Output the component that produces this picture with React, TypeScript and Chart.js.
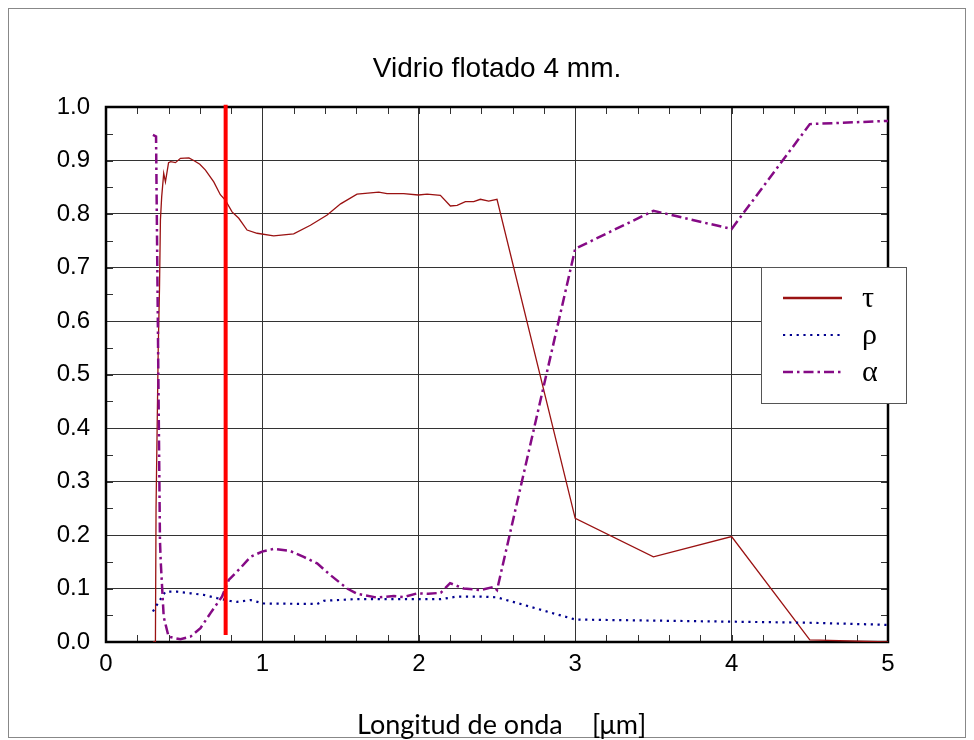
import { useEffect, useRef } from 'react';
import { Chart, registerables } from 'chart.js';

Chart.register(...registerables);

// ---- data (wavelength in µm, fraction) ----
const tauWl = [0.30, 0.316, 0.32, 0.334, 0.342, 0.348, 0.356, 0.369, 0.38, 0.40, 0.414, 0.444, 0.476, 0.53, 0.561, 0.60, 0.636, 0.689, 0.731, 0.763, 0.806, 0.849, 0.902, 0.966, 1.072, 1.2, 1.307, 1.414, 1.50, 1.605, 1.744, 1.797, 1.903, 1.997, 2.053, 2.138, 2.202, 2.245, 2.298, 2.351, 2.394, 2.447, 2.50, 3.0, 3.5, 4.0, 4.5, 5.0];
const tauVal = [0.0, 0.0, 0.25, 0.55, 0.66, 0.789, 0.832, 0.876, 0.86, 0.896, 0.898, 0.896, 0.904, 0.905, 0.9, 0.893, 0.882, 0.86, 0.836, 0.826, 0.804, 0.792, 0.77, 0.764, 0.759, 0.763, 0.779, 0.798, 0.819, 0.837, 0.841, 0.838, 0.838, 0.8355, 0.837, 0.835, 0.815, 0.816, 0.823, 0.823, 0.8275, 0.824, 0.8275, 0.231, 0.159, 0.197, 0.004, 0.0];

const rhoWl = [0.30, 0.337, 0.38, 0.455, 0.54, 0.625, 0.71, 0.795, 0.838, 0.923, 1.008, 1.35, 1.392, 1.584, 1.755, 2.0, 2.14, 2.245, 2.394, 2.50, 3.0, 3.5, 4.0, 4.5, 5.0];
const rhoVal = [0.057, 0.075, 0.094, 0.094, 0.091, 0.088, 0.082, 0.0766, 0.075, 0.0785, 0.072, 0.071, 0.077, 0.08, 0.08, 0.08, 0.08, 0.085, 0.085, 0.0835, 0.042, 0.04, 0.038, 0.036, 0.032];

const alphaWl = [0.30, 0.32, 0.345, 0.35, 0.369, 0.40, 0.476, 0.54, 0.604, 0.668, 0.742, 0.785, 0.859, 0.923, 0.998, 1.072, 1.179, 1.264, 1.35, 1.435, 1.542, 1.605, 1.733, 1.84, 1.903, 1.99, 2.06, 2.14, 2.2, 2.287, 2.394, 2.479, 2.50, 3.0, 3.5, 4.0, 4.5, 5.0];
const alphaVal = [0.948, 0.945, 0.19, 0.15, 0.047, 0.01, 0.005, 0.01, 0.026, 0.054, 0.085, 0.116, 0.138, 0.159, 0.169, 0.174, 0.17, 0.159, 0.147, 0.125, 0.1, 0.09, 0.083, 0.086, 0.084, 0.091, 0.09, 0.092, 0.11, 0.1, 0.097, 0.103, 0.097, 0.735, 0.806, 0.772, 0.968, 0.974];

const visibleLimitWl = [0.765, 0.765];
const visibleLimitVal = [0.013, 1.004];

const xTicks = [0, 1, 2, 3, 4, 5];
const yTicks = [0, 0.1, 0.2, 0.3, 0.4, 0.5, 0.6, 0.7, 0.8, 0.9, 1.0];

const titleText = 'Vidrio flotado 4 mm.';
const xTitleMain = 'Longitud de onda';
const xTitleUnit = '[\u03bcm]';
const legendLabels = ['\u03c4', '\u03c1', '\u03b1'];

const TAU_COLOR = '#9a1212';
const RHO_COLOR = '#00008f';
const ALPHA_COLOR = '#850a85';
const RHO_DASH = [2.2, 4.6];
const ALPHA_DASH = [10, 4, 2.5, 4];

const toPts = (xs: number[], ys: number[]) => xs.map((x, i) => ({ x, y: ys[i] }));

const decorPlugin = {
  id: 'decor',
  beforeDraw(chart: any) {
    const ctx = chart.ctx;
    ctx.save();
    ctx.fillStyle = '#ffffff';
    ctx.fillRect(0, 0, chart.width, chart.height);
    ctx.strokeStyle = '#888888';
    ctx.lineWidth = 1;
    ctx.strokeRect(8.5, 8.5, 957, 729);
    ctx.restore();
  },
  beforeDatasetsDraw(chart: any) {
    const ctx = chart.ctx;
    const a = chart.chartArea;
    const xs = chart.scales.x;
    const ys = chart.scales.y;
    ctx.save();
    ctx.strokeStyle = '#333333';
    ctx.lineWidth = 1;
    ctx.beginPath();
    for (let i = 0; i <= 20; i++) {
      const py = Math.round(ys.getPixelForValue(i * 0.05)) + 0.5;
      ctx.moveTo(a.left, py); ctx.lineTo(a.left + 7, py);
      ctx.moveTo(a.right, py); ctx.lineTo(a.right - 7, py);
    }
    for (let i = 0; i <= 25; i++) {
      const px = Math.round(xs.getPixelForValue(i * 0.2)) + 0.5;
      ctx.moveTo(px, a.top); ctx.lineTo(px, a.top + 7);
      ctx.moveTo(px, a.bottom); ctx.lineTo(px, a.bottom - 7);
    }
    ctx.stroke();
    ctx.strokeStyle = '#000000';
    ctx.lineWidth = 2.5;
    ctx.strokeRect(a.left, a.top, a.right - a.left, a.bottom - a.top);
    ctx.restore();
  },
  afterDraw(chart: any) {
    const ctx = chart.ctx;
    const a = chart.chartArea;
    ctx.save();
    // title
    ctx.fillStyle = '#000';
    ctx.font = '28px "Liberation Sans", Arial, sans-serif';
    ctx.textAlign = 'center';
    ctx.textBaseline = 'alphabetic';
    ctx.fillText(titleText, (a.left + a.right) / 2, 77);
    // x title
    ctx.font = '27px Lato, "Open Sans", sans-serif';
    ctx.textAlign = 'left';
    ctx.fillText(xTitleMain, 357, 734);
    ctx.fillText(xTitleUnit, 592, 734);
    // legend
    const lx = 761, ly = 267, lw = 145, lh = 136;
    ctx.fillStyle = '#ffffff';
    ctx.fillRect(lx, ly, lw, lh);
    ctx.strokeStyle = '#555555';
    ctx.lineWidth = 1;
    ctx.strokeRect(lx + 0.5, ly + 0.5, lw, lh);
    const rows = [
      { y: 298, color: TAU_COLOR, dash: [] as number[], w: 2.5 },
      { y: 335, color: RHO_COLOR, dash: RHO_DASH, w: 2.2 },
      { y: 372, color: ALPHA_COLOR, dash: ALPHA_DASH, w: 2.5 },
    ];
    rows.forEach((r, i) => {
      ctx.strokeStyle = r.color;
      ctx.lineWidth = r.w;
      ctx.setLineDash(r.dash);
      ctx.beginPath();
      ctx.moveTo(783, r.y);
      ctx.lineTo(842, r.y);
      ctx.stroke();
      ctx.setLineDash([]);
      ctx.fillStyle = '#000';
      ctx.font = '30px "Liberation Serif", "DejaVu Serif", serif';
      ctx.textAlign = 'left';
      ctx.textBaseline = 'alphabetic';
      ctx.fillText(legendLabels[i], 862, r.y + 9);
    });
    ctx.restore();
  },
};

export default function App() {
  const ref = useRef<HTMLCanvasElement | null>(null);
  useEffect(() => {
    if (!ref.current) return;
    const chart = new Chart(ref.current, {
      type: 'line',
      data: {
        datasets: [
          {
            label: 'limit',
            data: toPts(visibleLimitWl, visibleLimitVal),
            borderColor: '#ff0000',
            borderWidth: 4,
            pointRadius: 0,
            clip: false as any,
            order: 0,
          },
          {
            label: legendLabels[2],
            data: toPts(alphaWl, alphaVal),
            borderColor: ALPHA_COLOR,
            borderWidth: 2.5,
            borderDash: ALPHA_DASH,
            pointRadius: 0,
            order: 1,
          },
          {
            label: legendLabels[1],
            data: toPts(rhoWl, rhoVal),
            borderColor: RHO_COLOR,
            borderWidth: 2.2,
            borderDash: RHO_DASH,
            pointRadius: 0,
            order: 2,
          },
          {
            label: legendLabels[0],
            data: toPts(tauWl, tauVal),
            borderColor: TAU_COLOR,
            borderWidth: 1.3,
            pointRadius: 0,
            order: 3,
          },
        ],
      },
      options: {
        responsive: false,
        animation: false,
        devicePixelRatio: 1,
        layout: { padding: { left: 46, top: 107, right: 86, bottom: 58 } },
        plugins: { legend: { display: false }, tooltip: { enabled: false }, title: { display: false } },
        elements: { line: { tension: 0 } },
        scales: {
          x: {
            type: 'linear',
            min: 0,
            max: 5,
            afterBuildTicks: (s: any) => { s.ticks = xTicks.map((v) => ({ value: v })); },
            afterFit: (s: any) => { s.height = 40; },
            ticks: {
              color: '#000',
              font: { family: '"Liberation Sans", Arial, sans-serif', size: 24 },
              padding: 8,
              maxRotation: 0,
              callback: (v: any) => String(v),
            },
            grid: { color: '#333333', lineWidth: 1, drawTicks: false },
            border: { display: false },
          },
          y: {
            type: 'linear',
            min: 0,
            max: 1,
            afterBuildTicks: (s: any) => { s.ticks = yTicks.map((v) => ({ value: v })); },
            afterFit: (s: any) => { s.width = 60; },
            ticks: {
              color: '#000',
              font: { family: '"Liberation Sans", Arial, sans-serif', size: 24 },
              padding: 16,
              callback: (v: any) => Number(v).toFixed(1),
            },
            grid: { color: '#333333', lineWidth: 1, drawTicks: false },
            border: { display: false },
          },
        },
      },
      plugins: [decorPlugin],
    } as any);
    return () => chart.destroy();
  }, []);
  return (
    <div style={{ position: 'absolute', left: 0, top: 0, width: 974, height: 740, background: '#fff' }}>
      <canvas ref={ref} width={974} height={740} style={{ display: 'block', width: 974, height: 740 }} />
    </div>
  );
}
